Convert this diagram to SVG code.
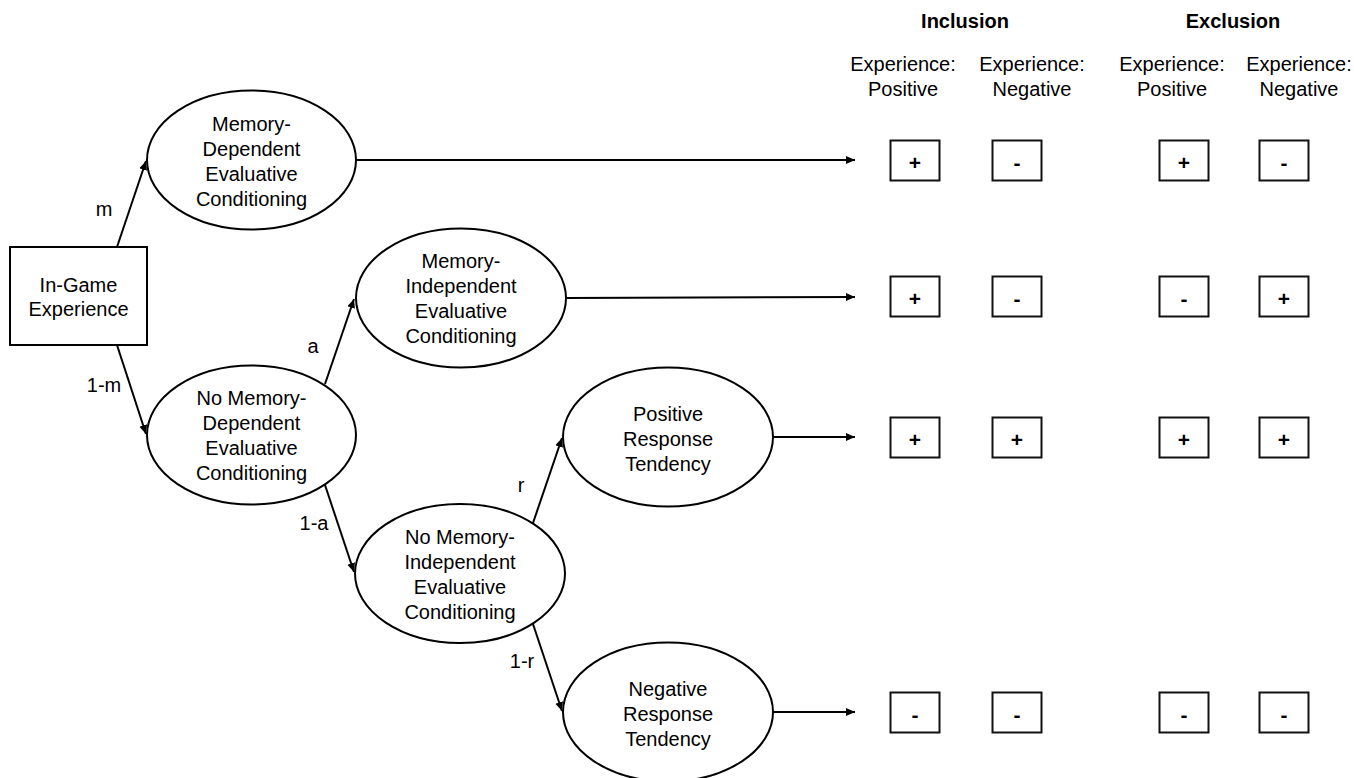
<svg xmlns="http://www.w3.org/2000/svg" width="1354" height="778" viewBox="0 0 1354 778">
<style>
text{font-family:"Liberation Sans",Arial,sans-serif;font-size:20px;fill:#000;text-anchor:middle}
.b{font-weight:bold}
.sym{font-weight:bold;font-size:21px}
.node{fill:#fff;stroke:#000;stroke-width:2}
.box{fill:#fff;stroke:#111;stroke-width:2}
.edge{stroke:#000;stroke-width:2;fill:none;marker-end:url(#ah)}
</style>
<defs>
<marker id="ah" markerUnits="userSpaceOnUse" markerWidth="10" markerHeight="10" refX="9" refY="4" orient="auto">
<path d="M0,0 L9,4 L0,8 z" fill="#000"/>
</marker>
</defs>
<rect width="1354" height="778" fill="#fff"/>

<g id="connectors">
<line class="edge" x1="117" y1="247" x2="146" y2="161"/>
<line class="edge" x1="117" y1="345" x2="146" y2="434"/>
<line class="edge" x1="325" y1="384" x2="354" y2="299"/>
<line class="edge" x1="325" y1="485" x2="354" y2="572"/>
<line class="edge" x1="533" y1="523" x2="562" y2="438"/>
<line class="edge" x1="533" y1="624" x2="562" y2="711"/>
<line class="edge" x1="356" y1="160" x2="855" y2="160"/>
<line class="edge" x1="566" y1="298" x2="855" y2="297"/>
<line class="edge" x1="773" y1="437" x2="855" y2="437"/>
<line class="edge" x1="773" y1="712" x2="855" y2="712"/>
<text x="104" y="216">m</text>
<text x="104" y="392">1-m</text>
<text x="313" y="353">a</text>
<text x="314" y="530">1-a</text>
<text x="521" y="492">r</text>
<text x="522" y="668">1-r</text>
</g>

<g id="experience">
<rect class="node" x="10" y="247" width="137" height="98"/>
<text x="78.5" y="292">In-Game</text>
<text x="78.5" y="316">Experience</text>
</g>

<g id="md-ec">
<ellipse class="node" cx="251.5" cy="160" rx="104.5" ry="69.5"/>
<text x="251.5" y="131">Memory-</text>
<text x="251.5" y="156">Dependent</text>
<text x="251.5" y="181">Evaluative</text>
<text x="251.5" y="206">Conditioning</text>
</g>

<g id="no-md-ec">
<ellipse class="node" cx="251.5" cy="435" rx="104.5" ry="69.5"/>
<text x="251.5" y="405">No Memory-</text>
<text x="251.5" y="430">Dependent</text>
<text x="251.5" y="455">Evaluative</text>
<text x="251.5" y="480">Conditioning</text>
</g>

<g id="mi-ec">
<ellipse class="node" cx="461" cy="298" rx="105" ry="69.5"/>
<text x="461" y="268">Memory-</text>
<text x="461" y="293">Independent</text>
<text x="461" y="318">Evaluative</text>
<text x="461" y="343">Conditioning</text>
</g>

<g id="no-mi-ec">
<ellipse class="node" cx="460" cy="573.5" rx="105" ry="69.5"/>
<text x="460" y="544">No Memory-</text>
<text x="460" y="569">Independent</text>
<text x="460" y="594">Evaluative</text>
<text x="460" y="619">Conditioning</text>
</g>

<g id="pos-rt">
<ellipse class="node" cx="668" cy="437" rx="105" ry="69.5"/>
<text x="668" y="421">Positive</text>
<text x="668" y="446">Response</text>
<text x="668" y="471">Tendency</text>
</g>

<g id="neg-rt">
<ellipse class="node" cx="668" cy="712" rx="105" ry="69.5"/>
<text x="668" y="696">Negative</text>
<text x="668" y="721">Response</text>
<text x="668" y="746">Tendency</text>
</g>

<g id="headers">
<text class="b" x="965" y="28">Inclusion</text>
<text class="b" x="1233" y="28">Exclusion</text>
<text x="903" y="71">Experience:</text>
<text x="903" y="96">Positive</text>
<text x="1032" y="71">Experience:</text>
<text x="1032" y="96">Negative</text>
<text x="1172" y="71">Experience:</text>
<text x="1172" y="96">Positive</text>
<text x="1299" y="71">Experience:</text>
<text x="1299" y="96">Negative</text>
</g>

<g id="row1">
<rect class="box" x="890.5" y="140.5" width="49" height="40"/><text class="sym" x="915" y="169.5">+</text>
<rect class="box" x="992.5" y="140.5" width="49" height="40"/><text class="sym" x="1017" y="169.5">-</text>
<rect class="box" x="1159.5" y="140.5" width="49" height="40"/><text class="sym" x="1184" y="169.5">+</text>
<rect class="box" x="1259.5" y="140.5" width="49" height="40"/><text class="sym" x="1284" y="169.5">-</text>
</g>
<g id="row2">
<rect class="box" x="890.5" y="276.5" width="49" height="40"/><text class="sym" x="915" y="305.5">+</text>
<rect class="box" x="992.5" y="276.5" width="49" height="40"/><text class="sym" x="1017" y="305.5">-</text>
<rect class="box" x="1159.5" y="276.5" width="49" height="40"/><text class="sym" x="1184" y="305.5">-</text>
<rect class="box" x="1259.5" y="276.5" width="49" height="40"/><text class="sym" x="1284" y="305.5">+</text>
</g>
<g id="row3">
<rect class="box" x="890.5" y="417.5" width="49" height="40"/><text class="sym" x="915" y="446.5">+</text>
<rect class="box" x="992.5" y="417.5" width="49" height="40"/><text class="sym" x="1017" y="446.5">+</text>
<rect class="box" x="1159.5" y="417.5" width="49" height="40"/><text class="sym" x="1184" y="446.5">+</text>
<rect class="box" x="1259.5" y="417.5" width="49" height="40"/><text class="sym" x="1284" y="446.5">+</text>
</g>
<g id="row4">
<rect class="box" x="890.5" y="692.5" width="49" height="40"/><text class="sym" x="915" y="721.5">-</text>
<rect class="box" x="992.5" y="692.5" width="49" height="40"/><text class="sym" x="1017" y="721.5">-</text>
<rect class="box" x="1159.5" y="692.5" width="49" height="40"/><text class="sym" x="1184" y="721.5">-</text>
<rect class="box" x="1259.5" y="692.5" width="49" height="40"/><text class="sym" x="1284" y="721.5">-</text>
</g>
</svg>
